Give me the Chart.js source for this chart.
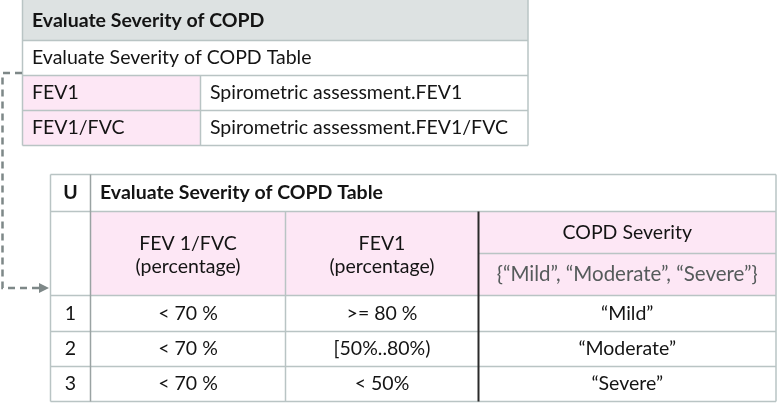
<!DOCTYPE html>
<html><head><meta charset="utf-8">
<script src="https://cdn.jsdelivr.net/npm/chart.js@4.4.1/dist/chart.umd.min.js"></script>
<style>html,body{margin:0;padding:0;background:#fff;overflow:hidden}#wrap{width:777px;height:403px}</style>
</head><body><div id="wrap"><canvas id="c" width="777" height="403"></canvas></div>
<script>
// ---- data ----
const topTitle = "Evaluate Severity of COPD";
const topSubtitle = "Evaluate Severity of COPD Table";
const inputNames = ["FEV1", "FEV1/FVC"];
const inputSources = ["Spirometric assessment.FEV1", "Spirometric assessment.FEV1/FVC"];
const hitPolicy = "U";
const tableName = "Evaluate Severity of COPD Table";
const inputHeaders = [["FEV 1/FVC", "(percentage)"], ["FEV1", "(percentage)"]];
const outputHeader = "COPD Severity";
const outputValues = "{“Mild”, “Moderate”, “Severe”}";
const ruleNumbers = ["1", "2", "3"];
const fevFvcRules = ["< 70 %", "< 70 %", "< 70 %"];
const fev1Rules = [">= 80 %", "[50%..80%)", "< 50%"];
const severityRules = ["“Mild”", "“Moderate”", "“Severe”"];

// ---- layout (pixel units on the chart's linear scales) ----
const L = {
  top: {x0: 22.5, x1: 528, split: 200.5, rows: [-1, 40.5, 75.5, 110.5, 145.5], textX: 32, srcX: 210},
  bot: {x0: 50.5, x1: 776, cols: [90.5, 285.5, 478.5], rows: [174.5, 211.5, 295.5, 331.5, 366.5, 401.5], sub: 253.5, nameX: 100},
  conn: {startX: 22, y0: 73, vx: 2.5, y1: 288, tipX: 50}
};
const FONT = 'Lato, "Open Sans", sans-serif';
const FS = 19.5;
const C = {border: '#b9c4c4', gray: '#dde2e2', pink: '#fde7f5', text: '#141414', sub: '#555b5b', dark: '#2a2a2a', conn: '#7e8888'};

const tablePlugin = {
  id: 'dmnTable',
  afterDraw(chart) {
    const ctx = chart.ctx, xs = chart.scales.x, ys = chart.scales.y;
    const X = v => xs.getPixelForValue(v), Y = v => ys.getPixelForValue(v);
    const rect = (x0, y0, x1, y1, fill) => { ctx.fillStyle = fill; ctx.fillRect(X(x0), Y(y0), X(x1) - X(x0), Y(y1) - Y(y0)); };
    const line = (x0, y0, x1, y1, col, w) => { ctx.strokeStyle = col; ctx.lineWidth = w; ctx.beginPath(); ctx.moveTo(X(x0), Y(y0)); ctx.lineTo(X(x1), Y(y1)); ctx.stroke(); };
    const text = (s, x, y, align, bold, col, size) => {
      ctx.font = (bold ? 'bold ' : '') + (size || FS) + 'px ' + FONT;
      ctx.fillStyle = col || C.text; ctx.textAlign = align; ctx.textBaseline = 'middle';
      ctx.fillText(s, X(x), Y(y));
    };
    ctx.save();
    // ---------- top table ----------
    const T = L.top;
    rect(T.x0, T.rows[0], T.x1, T.rows[1], C.gray);
    rect(T.x0, T.rows[2], T.split, T.rows[4], C.pink);
    T.rows.forEach(r => line(T.x0, r, T.x1, r, C.border, 1.5));
    line(T.x0, T.rows[0], T.x0, T.rows[4], C.border, 1.5);
    line(T.x1, T.rows[0], T.x1, T.rows[4], C.border, 1.5);
    line(T.split, T.rows[2], T.split, T.rows[4], C.border, 1.5);
    const mid = (a, b) => (a + b) / 2;
    text(topTitle, T.textX, mid(T.rows[0] + 1, T.rows[1]), 'left', true);
    text(topSubtitle, T.textX, mid(T.rows[1], T.rows[2]), 'left', false);
    inputNames.forEach((n, i) => {
      const yc = mid(T.rows[2 + i], T.rows[3 + i]);
      text(n, T.textX, yc, 'left', false);
      text(inputSources[i], T.srcX, yc, 'left', false);
    });
    // ---------- bottom table ----------
    const B = L.bot, R = B.rows, K = B.cols;
    rect(K[0], R[1], B.x1, R[2], C.pink);
    R.forEach(r => line(B.x0, r, B.x1, r, C.border, 1.5));
    line(K[2], B.sub, B.x1, B.sub, C.border, 1.5);
    line(B.x0, R[0], B.x0, R[5], C.border, 1.5);
    line(B.x1, R[0], B.x1, R[5], C.border, 1.5);
    line(K[0], R[0], K[0], R[5], '#9aa3a3', 1.5);
    line(K[1], R[1], K[1], R[5], C.border, 1.5);
    line(K[2], R[1], K[2], R[5], C.dark, 2);
    text(hitPolicy, mid(B.x0, K[0]), mid(R[0], R[1]), 'center', true);
    text(tableName, B.nameX, mid(R[0], R[1]), 'left', true);
    inputHeaders.forEach((h, i) => {
      const xc = mid(K[i], K[i + 1]);
      text(h[0], xc, 244, 'center', false);
      text(h[1], xc, 267, 'center', false);
    });
    const oc = mid(K[2], B.x1);
    text(outputHeader, oc, mid(R[1], B.sub), 'center', false);
    text(outputValues, oc, mid(B.sub, R[2]), 'center', false, C.sub, 20.5);
    ruleNumbers.forEach((n, i) => {
      const yc = mid(R[2 + i], R[3 + i]);
      text(n, mid(B.x0, K[0]), yc, 'center', false);
      text(fevFvcRules[i], mid(K[0], K[1]), yc, 'center', false);
      text(fev1Rules[i], mid(K[1], K[2]), yc, 'center', false);
      text(severityRules[i], oc, yc, 'center', false);
    });
    // ---------- dashed connector ----------
    const P = L.conn;
    ctx.strokeStyle = C.conn; ctx.lineWidth = 2.5; ctx.setLineDash([7, 5]);
    ctx.beginPath();
    ctx.moveTo(X(P.startX), Y(P.y0)); ctx.lineTo(X(P.vx), Y(P.y0));
    ctx.lineTo(X(P.vx), Y(P.y1)); ctx.lineTo(X(P.tipX - 9), Y(P.y1));
    ctx.stroke(); ctx.setLineDash([]);
    ctx.fillStyle = C.conn; ctx.beginPath();
    ctx.moveTo(X(P.tipX - 1), Y(P.y1)); ctx.lineTo(X(P.tipX - 11), Y(P.y1 - 5)); ctx.lineTo(X(P.tipX - 11), Y(P.y1 + 5)); ctx.closePath(); ctx.fill();
    ctx.restore();
  }
};

new Chart(document.getElementById('c'), {
  type: 'scatter',
  data: {datasets: [{data: [], pointRadius: 0}]},
  options: {
    responsive: false, animation: false, devicePixelRatio: 1,
    layout: {padding: 0},
    plugins: {legend: {display: false}, tooltip: {enabled: false}},
    scales: {
      x: {type: 'linear', min: 0, max: 777, display: false},
      y: {type: 'linear', min: 0, max: 403, reverse: true, display: false}
    }
  },
  plugins: [tablePlugin]
});
</script></body></html>
